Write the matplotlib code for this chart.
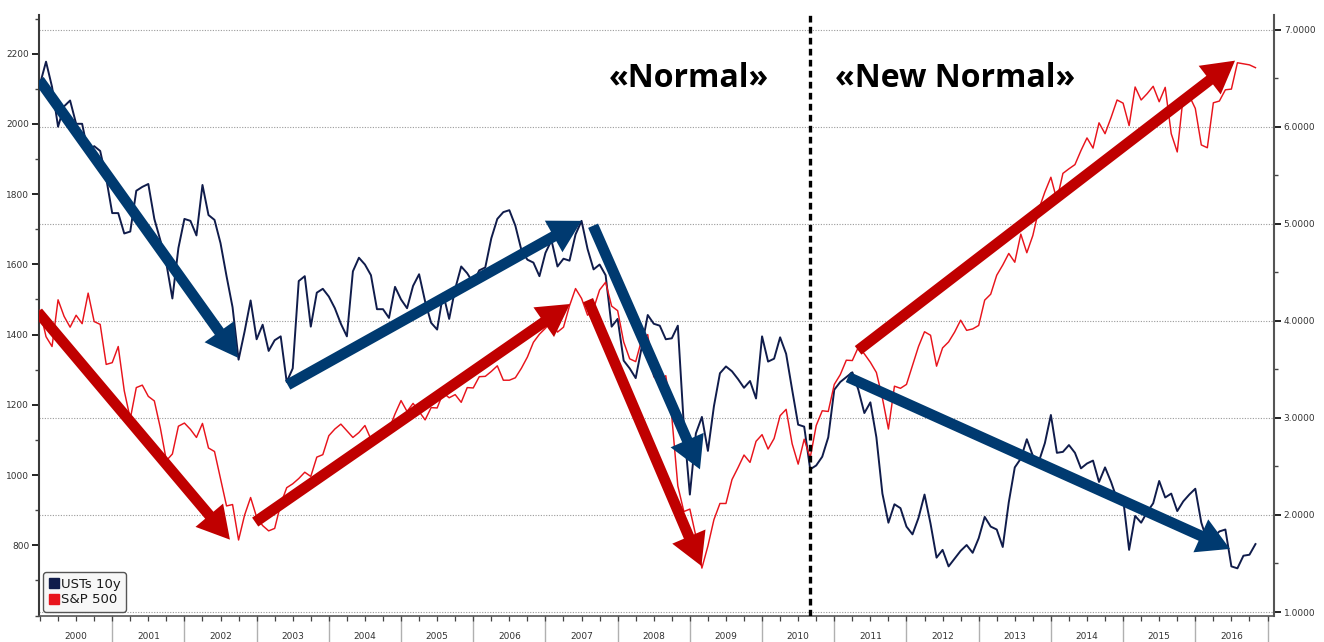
import numpy as np
import pandas as pd
import matplotlib
matplotlib.use("Agg")
import matplotlib.pyplot as plt
import matplotlib.transforms as mtransforms
from matplotlib.patches import FancyArrowPatch, ArrowStyle
from matplotlib.lines import Line2D
from matplotlib.ticker import FixedLocator, MultipleLocator, FuncFormatter

# ---------------- data (month-end values, Dec 1999 .. Oct 2016) ----------------
first_month = "1999-12-31"

sp500 = [
    1469,
    1394, 1366, 1499, 1452, 1421, 1455, 1431, 1518, 1437, 1429, 1315, 1320,   # 2000
    1366, 1240, 1160, 1249, 1256, 1224, 1211, 1134, 1041, 1060, 1139, 1148,   # 2001
    1130, 1107, 1147, 1077, 1067, 990, 912, 916, 815, 886, 936, 880,          # 2002
    856, 841, 848, 917, 964, 975, 990, 1008, 996, 1051, 1058, 1112,           # 2003
    1131, 1145, 1126, 1107, 1121, 1141, 1102, 1104, 1115, 1130, 1174, 1212,   # 2004
    1181, 1204, 1181, 1157, 1192, 1191, 1234, 1220, 1229, 1207, 1249, 1248,   # 2005
    1280, 1281, 1295, 1311, 1270, 1270, 1277, 1304, 1336, 1378, 1401, 1418,   # 2006
    1438, 1407, 1421, 1482, 1531, 1503, 1455, 1474, 1527, 1549, 1481, 1468,   # 2007
    1379, 1331, 1323, 1386, 1400, 1280, 1267, 1283, 1166, 969, 896, 903,      # 2008
    826, 735, 798, 873, 919, 919, 987, 1021, 1057, 1036, 1096, 1115,          # 2009
    1074, 1104, 1169, 1187, 1089, 1031, 1102, 1049, 1141, 1183, 1181, 1258,   # 2010
    1286, 1327, 1326, 1364, 1345, 1321, 1292, 1219, 1131, 1253, 1247, 1258,   # 2011
    1312, 1366, 1408, 1398, 1310, 1362, 1379, 1407, 1441, 1412, 1416, 1426,   # 2012
    1498, 1515, 1569, 1598, 1631, 1606, 1686, 1633, 1682, 1757, 1806, 1848,   # 2013
    1783, 1859, 1872, 1884, 1924, 1960, 1931, 2003, 1972, 2018, 2068, 2059,   # 2014
    1995, 2105, 2068, 2086, 2107, 2063, 2104, 1972, 1920, 2079, 2080, 2044,   # 2015
    1940, 1932, 2060, 2065, 2097, 2099, 2174, 2171, 2168, 2160,               # 2016
]

ust10y = [
    6.44,
    6.67, 6.41, 6.00, 6.21, 6.27, 6.03, 6.03, 5.73, 5.80, 5.75, 5.47, 5.11,   # 2000
    5.11, 4.90, 4.92, 5.34, 5.38, 5.41, 5.05, 4.83, 4.59, 4.23, 4.75, 5.05,   # 2001
    5.03, 4.88, 5.40, 5.09, 5.04, 4.80, 4.46, 4.14, 3.60, 3.89, 4.21, 3.81,   # 2002
    3.96, 3.69, 3.80, 3.84, 3.37, 3.51, 4.41, 4.46, 3.94, 4.29, 4.33, 4.25,   # 2003
    4.13, 3.97, 3.84, 4.51, 4.65, 4.58, 4.47, 4.12, 4.12, 4.03, 4.35, 4.22,   # 2004
    4.13, 4.36, 4.48, 4.20, 3.98, 3.91, 4.28, 4.02, 4.33, 4.56, 4.49, 4.39,   # 2005
    4.52, 4.55, 4.85, 5.05, 5.12, 5.14, 4.98, 4.73, 4.63, 4.60, 4.46, 4.70,   # 2006
    4.83, 4.56, 4.64, 4.62, 4.89, 5.03, 4.74, 4.53, 4.58, 4.47, 3.94, 4.02,   # 2007
    3.59, 3.51, 3.41, 3.73, 4.06, 3.97, 3.95, 3.81, 3.82, 3.95, 2.92, 2.21,   # 2008
    2.84, 3.01, 2.66, 3.12, 3.46, 3.53, 3.48, 3.40, 3.31, 3.38, 3.20, 3.84,   # 2009
    3.58, 3.61, 3.83, 3.66, 3.29, 2.93, 2.91, 2.47, 2.51, 2.60, 2.80, 3.29,   # 2010
    3.37, 3.42, 3.47, 3.29, 3.05, 3.16, 2.80, 2.22, 1.92, 2.11, 2.07, 1.88,   # 2011
    1.80, 1.97, 2.21, 1.91, 1.56, 1.64, 1.47, 1.55, 1.63, 1.69, 1.61, 1.76,   # 2012
    1.98, 1.88, 1.85, 1.67, 2.13, 2.49, 2.58, 2.78, 2.61, 2.55, 2.74, 3.03,   # 2013
    2.64, 2.65, 2.72, 2.64, 2.48, 2.53, 2.56, 2.34, 2.49, 2.34, 2.16, 2.17,   # 2014
    1.64, 1.99, 1.92, 2.03, 2.12, 2.35, 2.18, 2.22, 2.04, 2.14, 2.21, 2.27,   # 2015
    1.92, 1.73, 1.77, 1.83, 1.85, 1.47, 1.45, 1.58, 1.59, 1.70,               # 2016
]

years = list(range(2000, 2017))
left_ticks = [800, 1000, 1200, 1400, 1600, 1800, 2000, 2200]
right_ticks = [1, 2, 3, 4, 5, 6, 7]
series_labels = ["USTs 10y", "S&P 500"]
regime_labels = ["\u00abNormal\u00bb", "\u00abNew Normal\u00bb"]
regime_break = 2010.66

# trend arrows: (start, end) in (decimal year, axis value)
ust_arrows = [((1999.99, 6.48), (2002.74, 3.62)),
              ((2003.43, 3.34), (2007.50, 5.03)),
              ((2007.66, 4.98), (2009.14, 2.47)),
              ((2011.19, 3.42), (2016.48, 1.65))]
spx_arrows = [((1999.97, 1464), (2002.63, 816)),
              ((2002.98, 866), (2007.34, 1487)),
              ((2007.59, 1498), (2009.16, 741)),
              ((2011.33, 1355), (2016.55, 2180))]

# ---------------- styling ----------------
NAVY = "#101c4b"
RED = "#e8141c"
ARROW_BLUE = "#003a70"
ARROW_RED = "#c00000"
TICK_COL = "#333333"

dates = pd.date_range(first_month, periods=len(sp500), freq="ME")
xdec = dates.year + dates.month / 12.0

W, H = 1324, 642
fig = plt.figure(figsize=(W / 100, H / 100), dpi=100)
fig.patch.set_facecolor("white")
L, R, B, T = 39, 1274, 615.5, 15
ax2 = fig.add_axes([L / W, (H - B) / H, (R - L) / W, (B - T) / H])
ax = ax2.twinx()
# ax2 -> right axis (UST), ax -> left axis (S&P)
ax.yaxis.tick_left()
ax.yaxis.set_label_position("left")
ax2.yaxis.tick_right()
ax2.yaxis.set_label_position("right")
ax.set_zorder(ax2.get_zorder() + 1)
ax.patch.set_visible(False)
ax2.patch.set_visible(False)

ax2.set_xlim(1999.986, 2017.09)
ax.set_ylim(600, 2310)
ax2.set_ylim(0.964, 7.151)

# grid (right axis levels)
ax2.yaxis.grid(True, which="major", linestyle=(0, (1, 1.4)), color="#9a9a9a", lw=0.8)
ax2.set_axisbelow(True)

# series
ax2.plot(xdec, ust10y, color=NAVY, lw=1.4, zorder=3)
ax.plot(xdec, sp500, color=RED, lw=1.05, zorder=3)

# regime break
ax.axvline(regime_break, color="black", lw=2.4, ls=(0, (2.0, 1.3)), zorder=4)

# arrows
style = ArrowStyle.Simple(head_length=23, head_width=26, tail_width=7.8)
for (p0, p1) in ust_arrows:
    ax.add_patch(FancyArrowPatch(p0, p1, arrowstyle=style, mutation_scale=1,
                                 color=ARROW_BLUE, lw=0, shrinkA=0, shrinkB=0,
                                 transform=ax2.transData, zorder=6))
for (p0, p1) in spx_arrows:
    ax.add_patch(FancyArrowPatch(p0, p1, arrowstyle=style, mutation_scale=1,
                                 color=ARROW_RED, lw=0, shrinkA=0, shrinkB=0,
                                 transform=ax.transData, zorder=6))

# regime labels
ax2.text(2008.99, 6.50, regime_labels[0], ha="center", va="center",
         fontsize=23, fontweight="bold", family="Open Sans", color="black", zorder=7)
ax2.text(2012.67, 6.50, regime_labels[1], ha="center", va="center",
         fontsize=23, fontweight="bold", family="Open Sans", color="black", zorder=7)

# ---------------- axes / ticks ----------------
ax.yaxis.set_major_locator(FixedLocator(left_ticks))
ax.yaxis.set_minor_locator(MultipleLocator(100))
ax.yaxis.set_major_formatter(FuncFormatter(lambda v, p: f"{v:.0f}"))
ax.tick_params(axis="y", which="major", length=5, width=1.4, color="#222222",
               labelsize=6.5, labelcolor=TICK_COL, pad=2)
ax.tick_params(axis="y", which="minor", length=3, width=1, color="#444444")

ax2.yaxis.set_major_locator(FixedLocator(right_ticks))
ax2.yaxis.set_minor_locator(MultipleLocator(0.5))
ax2.yaxis.set_major_formatter(FuncFormatter(lambda v, p: f"{v:.4f}"))
ax2.tick_params(axis="y", which="major", length=5, width=1.4, color="#222222",
                labelsize=6.5, labelcolor=TICK_COL, pad=2)
ax2.tick_params(axis="y", which="minor", length=3, width=1, color="#444444")

# x axis on ax (top layer); ax2's x axis hidden
ax2.xaxis.set_visible(False)
ax.xaxis.set_visible(True)
quarters = np.arange(2000, 2017.01, 0.25)
ax.xaxis.remove_overlapping_locs = False
ax.set_xticks(quarters)
ax.set_xticklabels([""] * len(quarters))
ax.set_xticks([y + 0.5 for y in years], labels=[str(y) for y in years], minor=True)
ax.tick_params(axis="x", which="major", length=3.5, width=0.9, color="#444444")
ax.tick_params(axis="x", which="minor", length=0, labelsize=6.5,
               labelcolor=TICK_COL, pad=12)

blend = mtransforms.blended_transform_factory(ax.transData, ax.transAxes)
for y in years[1:] + [2017]:
    ax.plot([y, y], [0, -0.05], transform=blend, clip_on=False,
            color="#b0b0b0", lw=1.0, zorder=1)

for a in (ax, ax2):
    a.spines["top"].set_visible(False)
ax.spines["right"].set_visible(False)
ax2.spines["left"].set_visible(False)
ax2.spines["bottom"].set_visible(False)
ax.spines["left"].set_color("#3a3a3a")
ax.spines["left"].set_linewidth(1.5)
ax.spines["bottom"].set_color("#555555")
ax.spines["bottom"].set_linewidth(1.2)
ax2.spines["right"].set_color("#555555")
ax2.spines["right"].set_linewidth(1.5)

# legend
handles = [Line2D([], [], marker="s", ls="none", color=NAVY, markersize=7.5),
           Line2D([], [], marker="s", ls="none", color=RED, markersize=7.5)]
leg = ax.legend(handles, series_labels, loc="lower left", bbox_to_anchor=(0, 0),
                borderaxespad=0.3, frameon=True, fancybox=True, fontsize=9.5,
                handletextpad=0.15, handlelength=0.8, labelspacing=0.2,
                borderpad=0.4)
leg.get_frame().set_edgecolor("#555555")
leg.get_frame().set_facecolor("#f7f7f7")
leg.get_frame().set_alpha(1)
leg.get_frame().set_linewidth(1.0)
leg.set_zorder(10)
for t in leg.get_texts():
    t.set_color("#1a1a1a")

fig.savefig("out.png", dpi=100)
